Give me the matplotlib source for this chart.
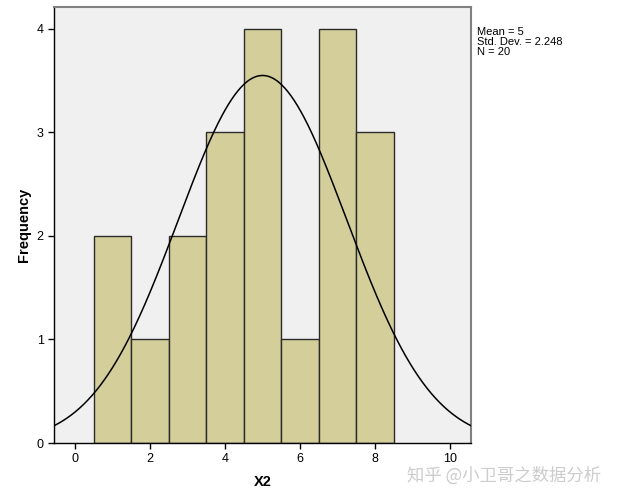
import numpy as np
import matplotlib.pyplot as plt

plt.rcParams["font.family"] = ["Liberation Sans", "DejaVu Sans"]

# histogram of X2
bin_centers = [1, 2, 3, 4, 5, 6, 7, 8]
counts = [2, 1, 2, 3, 4, 1, 4, 3]
mean = 5.0
std_dev = 2.248
n = 20
x_ticks = [0, 2, 4, 6, 8, 10]
y_ticks = [0, 1, 2, 3, 4]

fig = plt.figure(figsize=(6.29, 5.04), dpi=100)
ax = fig.add_axes([0.0859, 0.121, 0.6624, 0.865])
ax.set_facecolor("#F0F0F0")

ax.bar(bin_centers, counts, width=1.0, color="#D3CE9A",
       edgecolor="#2b2b2b", linewidth=1.0, zorder=2)

xs = np.linspace(-0.56, 10.55, 400)
pdf = n * 1.0 / (std_dev * np.sqrt(2 * np.pi)) * np.exp(-0.5 * ((xs - mean) / std_dev) ** 2)
ax.plot(xs, pdf, color="black", linewidth=1.1, zorder=3)

ax.set_xlim(-0.56, 10.55)
ax.set_ylim(0, 4.21)
ax.set_xticks(x_ticks)
ax.set_yticks(y_ticks)
ax.tick_params(labelsize=9, length=4, width=1, colors="black")

for s in ["top", "right"]:
    ax.spines[s].set_color("#808080")
    ax.spines[s].set_linewidth(1.5)
for s in ["left", "bottom"]:
    ax.spines[s].set_color("black")
    ax.spines[s].set_linewidth(1.0)

ax.set_xlabel("X2", fontsize=10.5, fontweight="bold", labelpad=7)
ax.set_ylabel("Frequency", fontsize=10.5, fontweight="bold", labelpad=4)

fig.text(477 / 629, 1 - 27 / 504,
         f"Mean = {mean:g}\nStd. Dev. = {std_dev}\nN = {n}",
         fontsize=8, va="top", ha="left", linespacing=1.0)

fig.text(407 / 629, 1 - 476 / 504, "知乎 @小卫哥之数据分析",
         fontsize=12.5, color="#cccccc", va="center", ha="left",
         family=["Noto Sans CJK SC", "DejaVu Sans"])

fig.savefig("out.png", dpi=100)
